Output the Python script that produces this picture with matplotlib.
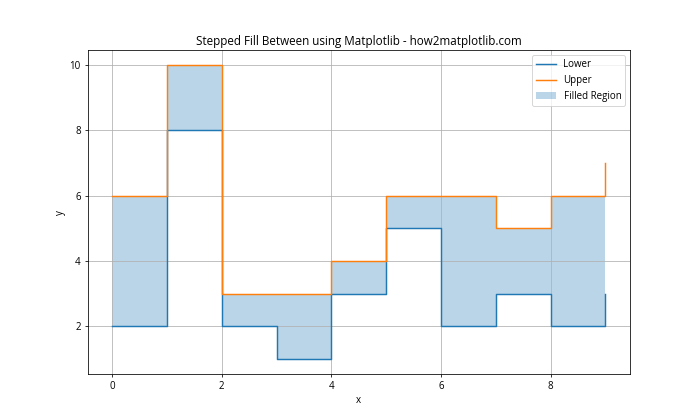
import matplotlib
matplotlib.use('Agg')
import matplotlib.pyplot as plt
import numpy as np

plt.rcParams['font.family'] = ['Open Sans', 'DejaVu Sans']

x = np.arange(10)
lower = [2, 8, 2, 1, 3, 5, 2, 3, 2, 3]
upper = [6, 10, 3, 3, 4, 6, 6, 5, 6, 7]

fig, ax = plt.subplots(figsize=(10, 6), dpi=70)
ax.step(x, lower, where='post', label='Lower')
ax.step(x, upper, where='post', label='Upper')
ax.fill_between(x, lower, upper, step='post', alpha=0.3, label='Filled Region')
ax.set_title('Stepped Fill Between using Matplotlib - how2matplotlib.com')
ax.set_xlabel('x')
ax.set_ylabel('y')
ax.legend()
ax.grid(True)
fig.savefig('out.png')
